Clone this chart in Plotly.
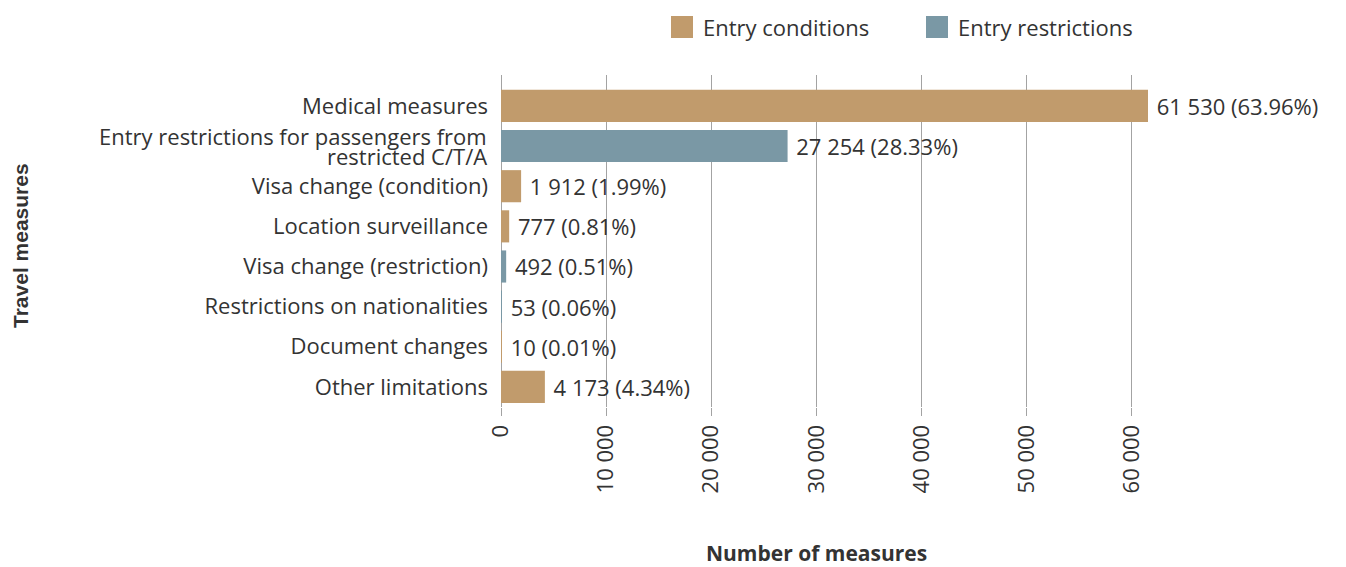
import plotly.graph_objects as go

categories = [
    "Medical measures",
    "Entry restrictions for passengers from restricted C/T/A",
    "Visa change (condition)",
    "Location surveillance",
    "Visa change (restriction)",
    "Restrictions on nationalities",
    "Document changes",
    "Other limitations",
]
# wrapped category label, drawn line by line (tight line spacing as in the reference)
wrapped_label = ["Entry restrictions for passengers from", "restricted C/T/A"]
values = [61530, 27254, 1912, 777, 492, 53, 10, 4173]
percents = [63.96, 28.33, 1.99, 0.81, 0.51, 0.06, 0.01, 4.34]
groups = ["Entry conditions", "Entry restrictions", "Entry conditions", "Entry conditions",
          "Entry restrictions", "Entry restrictions", "Entry conditions", "Entry conditions"]
series_names = ["Entry conditions", "Entry restrictions"]
colors = {"Entry conditions": "#C19B6C", "Entry restrictions": "#7A98A5"}
x_ticks = [0, 10000, 20000, 30000, 40000, 50000, 60000]

FONT = "Open Sans"
FS = 22
TXT = "#333333"
GRID = "#A3A3A3"

# page offset (body margin) compensation
OFF = 8
W, H = 1346 - OFF, 567 - OFF
L, T = 501 - OFF, 75 - OFF
R = W - (1148 - OFF)
B = H - (407 - OFF)
PW, PH = W - L - R, H - T - B

def px_x(px):
    return (px - OFF - L) / PW

def px_y(py):
    return (H - B - (py - OFF)) / PH

def fmt(v):
    return f"{v:,}".replace(",", " ")

fig = go.Figure()
for name in series_names:
    ys, xs, ts = [], [], []
    for c, v, p, g in zip(categories, values, percents, groups):
        if g == name:
            ys.append(c)
            xs.append(v)
            ts.append(f"\u00a0{fmt(v)} ({p:.2f}%)")
    fig.add_trace(go.Bar(
        name=name, y=ys, x=xs, orientation="h", text=ts,
        textposition="outside", cliponaxis=False,
        textfont=dict(family=FONT, size=FS, color=TXT),
        marker=dict(color=colors[name], line=dict(width=0)),
        width=0.8, showlegend=False,
    ))

tick_text = ["" if c == " ".join(wrapped_label) else c for c in categories]

fig.update_layout(
    width=W, height=H,
    margin=dict(l=L, r=R, t=T, b=B),
    paper_bgcolor="white", plot_bgcolor="white",
    barmode="overlay",
    separators=". ",
    font=dict(family=FONT, size=FS, color=TXT),
    showlegend=False,
)
fig.update_xaxes(
    range=[0, 61530], tickvals=x_ticks, tickformat=",d", tickangle=-90,
    showgrid=True, gridcolor=GRID, gridwidth=1,
    zeroline=True, zerolinecolor=GRID, zerolinewidth=1,
    ticks="outside", ticklen=8, tickcolor=GRID, tickwidth=1,
    showline=False, tickfont=dict(family=FONT, size=FS, color=TXT),
)
fig.update_yaxes(
    type="category", categoryorder="array", categoryarray=categories,
    tickvals=categories, ticktext=tick_text,
    range=[7.5, -0.77], showgrid=False, zeroline=False, showline=False,
    ticks="", ticklabelstandoff=12, tickfont=dict(family=FONT, size=FS, color=TXT),
)

# wrapped tick label lines
for line, shift in zip(wrapped_label, [10, -10]):
    fig.add_annotation(text=line, xref="paper", yref="y",
                       x=px_x(489), y=" ".join(wrapped_label), yshift=shift,
                       xanchor="right", yanchor="middle", showarrow=False,
                       font=dict(family=FONT, size=FS, color=TXT))

# axis titles
fig.add_annotation(text="<b>Number of measures</b>", xref="paper", yref="paper",
                   x=px_x(816), y=px_y(553), xanchor="center", yanchor="middle",
                   showarrow=False, font=dict(family=FONT, size=21, color=TXT))
fig.add_annotation(text="<b>Travel measures</b>", xref="paper", yref="paper",
                   x=px_x(20), y=px_y(246), xanchor="center", yanchor="middle",
                   textangle=-90, showarrow=False,
                   font=dict(family="Liberation Sans", size=21, color=TXT))

# legend (drawn manually for large swatches)
legend_pos = {"Entry conditions": 671, "Entry restrictions": 926}
for name in series_names:
    x0 = legend_pos[name]
    fig.add_shape(type="rect", xref="paper", yref="paper",
                  x0=px_x(x0), x1=px_x(x0 + 22), y0=px_y(38), y1=px_y(16),
                  fillcolor=colors[name], line=dict(width=0))
    fig.add_annotation(text=name, xref="paper", yref="paper",
                       x=px_x(x0 + 30), y=px_y(27), xanchor="left", yanchor="middle",
                       showarrow=False, font=dict(family=FONT, size=FS, color=TXT))

fig.write_html("out.html")
